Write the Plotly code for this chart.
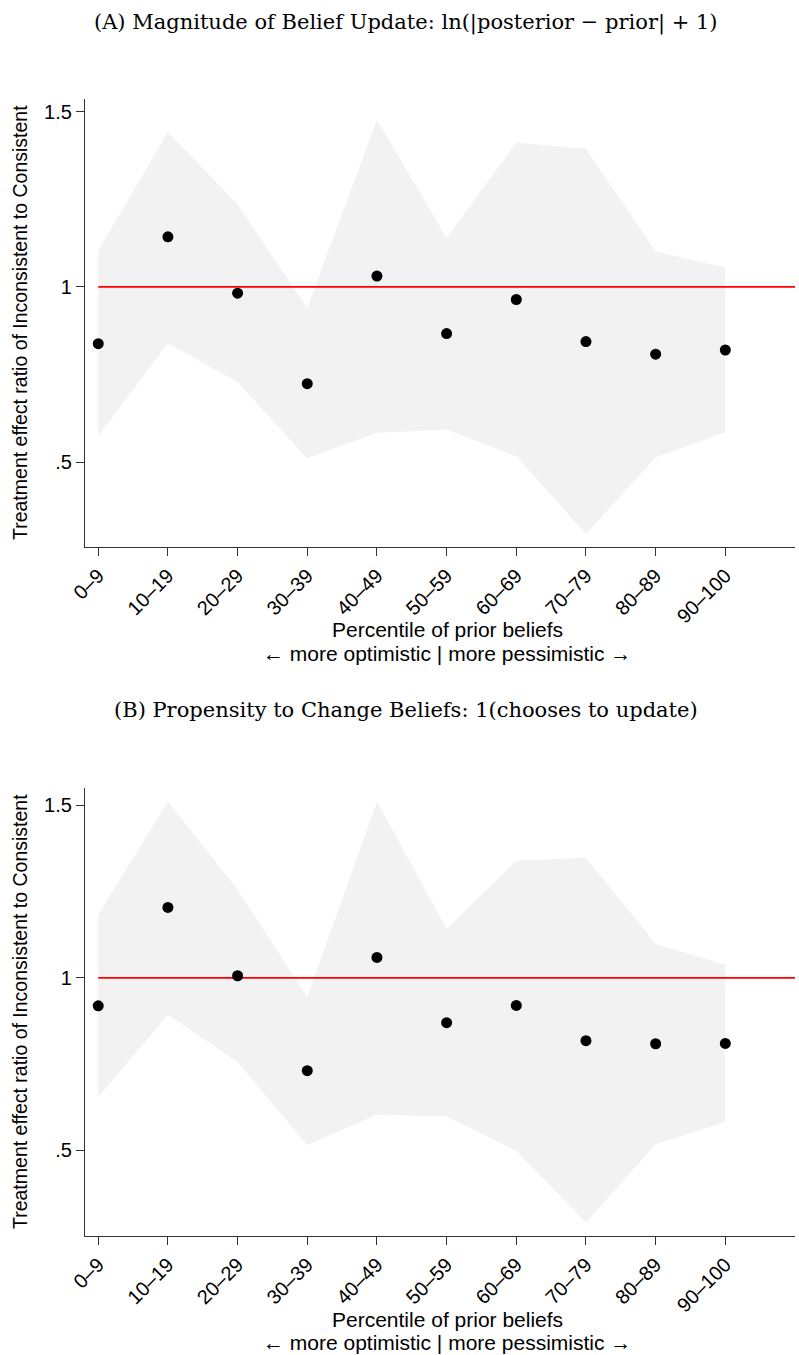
import plotly.graph_objects as go

categories = ["0–9", "10–19", "20–29", "30–39", "40–49", "50–59", "60–69", "70–79", "80–89", "90–100"]

# Panel A: Magnitude of belief update
a_point = [0.838, 1.143, 0.982, 0.724, 1.031, 0.867, 0.964, 0.844, 0.808, 0.820]
a_upper = [1.104, 1.442, 1.235, 0.940, 1.477, 1.140, 1.411, 1.394, 1.101, 1.055]
a_lower = [0.574, 0.840, 0.728, 0.511, 0.584, 0.593, 0.517, 0.295, 0.514, 0.585]

# Panel B: Propensity to change beliefs
b_point = [0.919, 1.204, 1.006, 0.731, 1.059, 0.870, 0.920, 0.818, 0.809, 0.810]
b_upper = [1.183, 1.511, 1.255, 0.944, 1.511, 1.142, 1.339, 1.348, 1.098, 1.038]
b_lower = [0.654, 0.893, 0.756, 0.516, 0.604, 0.598, 0.499, 0.291, 0.518, 0.582]

ref_x = [0, 10]
ref_y = [1, 1]

y_tickvals = [0.5, 1, 1.5]
y_ticktext = [".5", "1", "1.5"]

titles = ["(A) Magnitude of Belief Update: ln(|posterior − prior| + 1)",
          "(B) Propensity to Change Beliefs: 1(chooses to update)"]
y_title = "Treatment effect ratio of Inconsistent to Consistent"
x_title_1 = "Percentile of prior beliefs"
x_title_2 = "← more optimistic | more pessimistic →"

W, H = 799, 1355
SANS = "Liberation Sans, Arial, Helvetica"
SERIF = "DejaVu Serif, serif"

fig = go.Figure()
xs = list(range(len(categories)))

panels = [
    dict(pt=a_point, up=a_upper, lo=a_lower, xa="x", ya="y", top=99, bot=547, yr=[0.258, 1.536],
         title_y=23, xt1=630, xt2=653),
    dict(pt=b_point, up=b_upper, lo=b_lower, xa="x2", ya="y2", top=788, bot=1236, yr=[0.252, 1.550],
         title_y=710, xt1=1319, xt2=1342),
]

for p in panels:
    fig.add_trace(go.Scatter(
        x=xs + xs[::-1], y=p["up"] + p["lo"][::-1], fill="toself",
        fillcolor="#f2f2f2", line=dict(width=0, color="#f2f2f2"), mode="lines",
        xaxis=p["xa"], yaxis=p["ya"], showlegend=False, hoverinfo="skip"))
    fig.add_trace(go.Scatter(
        x=ref_x, y=ref_y, mode="lines", line=dict(color="#ff0000", width=1.6),
        xaxis=p["xa"], yaxis=p["ya"], showlegend=False))
    fig.add_trace(go.Scatter(
        x=xs, y=p["pt"], mode="markers", marker=dict(color="black", size=11),
        xaxis=p["xa"], yaxis=p["ya"], showlegend=False))

axis_common = dict(showgrid=False, zeroline=False, showline=True, linecolor="#333",
                   linewidth=1.3, ticks="outside", ticklen=8, tickcolor="#333", tickwidth=1.2,
                   automargin=False,
                   tickfont=dict(family=SANS, size=20, color="black"))

xdom = [85 / W, 795 / W]
for i, p in enumerate(panels):
    suffix = "" if i == 0 else str(i + 1)
    ydom = [1 - p["bot"] / H, 1 - p["top"] / H]
    fig.update_layout(**{
        "xaxis" + suffix: dict(axis_common, domain=xdom, range=[-0.19, 10.0],
                               tickvals=xs, ticktext=categories, tickangle=-45,
                               anchor="y" + suffix),
        "yaxis" + suffix: dict(axis_common, domain=ydom, range=p["yr"],
                               tickvals=y_tickvals, ticktext=y_ticktext,
                               anchor="x" + suffix),
    })

annotations = []
for i, p in enumerate(panels):
    annotations.append(dict(text=titles[i], x=406 / W, y=1 - p["title_y"] / H, xref="paper", yref="paper",
                            showarrow=False, font=dict(family=SERIF, size=21, color="black"),
                            xanchor="center", yanchor="middle"))
    annotations.append(dict(text=y_title, x=20 / W, y=1 - (p["top"] + p["bot"]) / 2 / H,
                            xref="paper", yref="paper", textangle=-90, showarrow=False,
                            font=dict(family=SANS, size=19.5, color="black"),
                            xanchor="center", yanchor="middle"))
    annotations.append(dict(text=x_title_1, x=447 / W, y=1 - p["xt1"] / H, xref="paper", yref="paper",
                            showarrow=False, font=dict(family=SANS, size=21, color="black"),
                            xanchor="center", yanchor="middle"))
    annotations.append(dict(text=x_title_2, x=447 / W, y=1 - p["xt2"] / H, xref="paper", yref="paper",
                            showarrow=False, font=dict(family=SANS, size=21, color="black"),
                            xanchor="center", yanchor="middle"))

fig.update_layout(width=W, height=H, margin=dict(l=0, r=0, t=0, b=0),
                  paper_bgcolor="white", plot_bgcolor="white", annotations=annotations)

fig.write_html("out.html", config={"displayModeBar": False},
               post_script="document.body.style.margin='0';document.body.style.overflow='hidden';")
